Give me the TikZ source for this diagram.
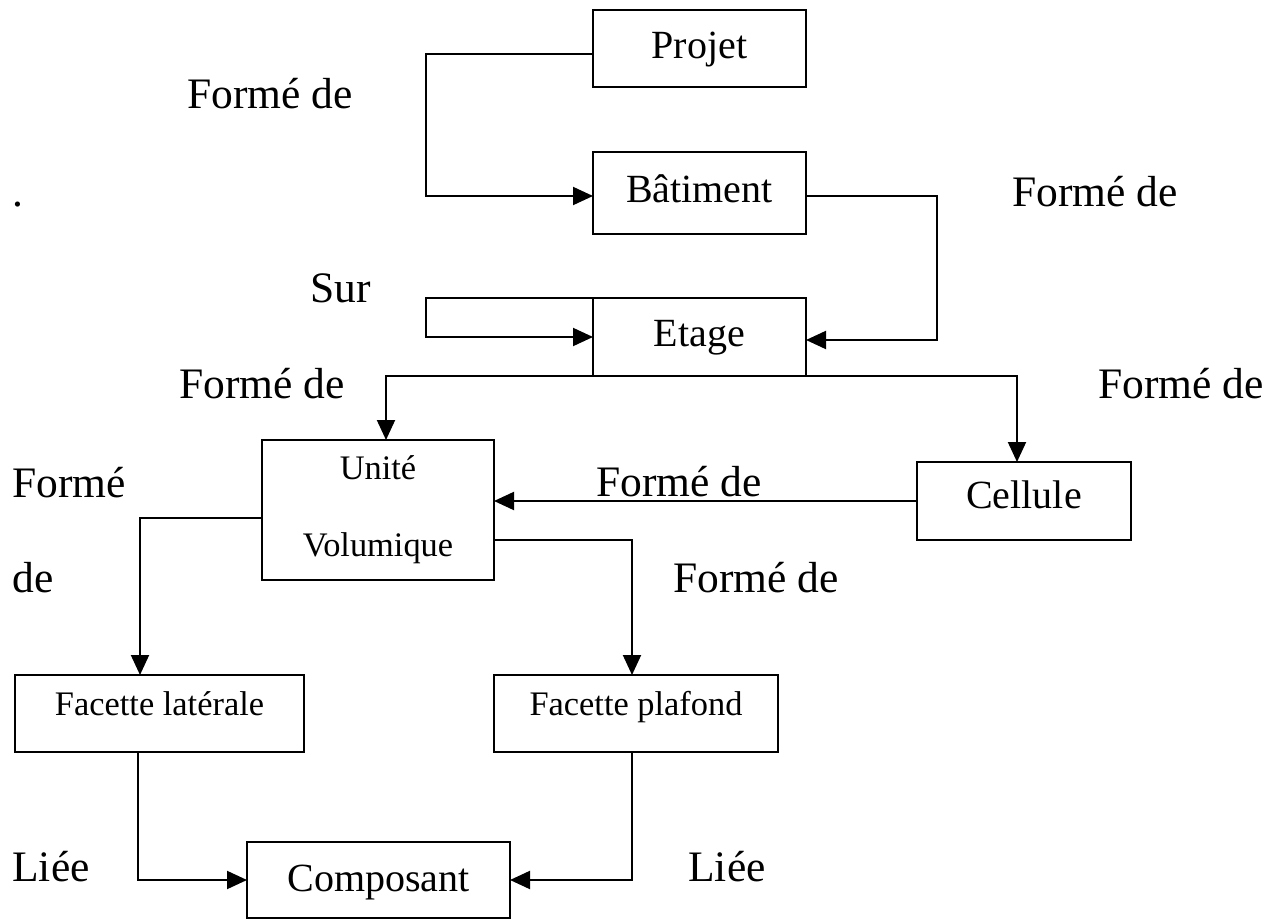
\documentclass[tikz,border=0pt]{standalone}
\usepackage{fontspec}
\setmainfont{Liberation Serif}
\usetikzlibrary{arrows.meta,calc}
\begin{document}
\begin{tikzpicture}[x=0.5pt,y=-0.5pt,
  box/.style={draw,line width=1pt,inner sep=0pt,outer sep=0pt,font=\fontsize{20}{24}\selectfont},
  smallbox/.style={box,font=\fontsize{17.2}{38.5}\selectfont},
  % places the baseline #1 units below the centre of the box
  drop/.style={text depth=0pt,text height=#1pt},
  arr/.style={line width=1pt,-{Triangle[length=10pt,width=9pt]}},
  lnk/.style={line width=1pt},
  lbl/.style={anchor=base west,inner sep=0pt,font=\fontsize{21.75}{26}\selectfont}]
\useasboundingbox (0,0) rectangle (1282,920);

% boxes
\node[box,drop=10,minimum width=106.5pt,minimum height=38.5pt] (Projet) at (699.5,48.5) {Projet};
\node[box,drop=10,minimum width=106.5pt,minimum height=41pt] (Batiment) at (699.5,193) {Bâtiment};
\node[box,drop=10,minimum width=106.5pt,minimum height=39pt] (Etage) at (699.5,337) {Etage};
\node[smallbox,minimum width=116pt,minimum height=70pt,align=center] (Unite) at (378,510) {Unité\\Volumique};
\node[box,drop=7,minimum width=107pt,minimum height=39pt] (Cellule) at (1024,501) {Cellule};
\node[smallbox,drop=2,minimum width=144.5pt,minimum height=38.5pt] (FacLat) at (159.5,713.5) {Facette latérale};
\node[smallbox,drop=2,minimum width=142pt,minimum height=38.5pt] (FacPla) at (636,713.5) {Facette plafond};
\node[box,drop=11,minimum width=131.5pt,minimum height=38pt] (Composant) at (378.5,880) {Composant};

% connectors
\draw[arr] ($(Projet.west)+(0,5.5)$) -- ++(-167,0) |- ($(Batiment.west)+(0,3)$);
\draw[arr] ($(Batiment.east)+(0,3)$) -- ++(131,0) |- ($(Etage.east)+(0,3)$);
\draw[arr] (Etage.north west) -- ++(-167,0) |- (Etage.west);
\draw[arr] (Etage.south west) -| ($(Unite.north)+(8,0)$);
\draw[arr] (Etage.south east) -| ($(Cellule.north)+(-7,0)$);
\draw[arr] (Cellule.west) -- (Cellule.west -| Unite.east);
\draw[arr] ($(Unite.west)+(0,8)$) -| ($(FacLat.north)+(-19.5,0)$);
\draw[arr] ($(Unite.east)+(0,30)$) -| ($(FacPla.north)+(-4,0)$);
\draw[arr] ($(FacLat.south)+(-21.5,0)$) |- (Composant.west);
\draw[arr] ($(FacPla.south)+(-4,0)$) |- (Composant.east);

% relation labels
\node[lbl] (l1) at (187,109) {Formé de};
\node[lbl] (dot) at (12,207) {.};
\node[lbl] (l2) at (1012,207) {Formé de};
\node[lbl] (l3) at (310,303) {Sur};
\node[lbl] (l4) at (179,399) {Formé de};
\node[lbl] (l5) at (1098,399) {Formé de};
\node[lbl] (l6a) at (12,497) {Formé};
\node[lbl] (l6b) at (12,592) {de};
\node[lbl] (l7) at (596,496) {Formé de};
\node[lbl] (l8) at (673,592) {Formé de};
\node[lbl] (l9) at (12,881) {Liée};
\node[lbl] (l10) at (688,881) {Liée};
\end{tikzpicture}
\end{document}
